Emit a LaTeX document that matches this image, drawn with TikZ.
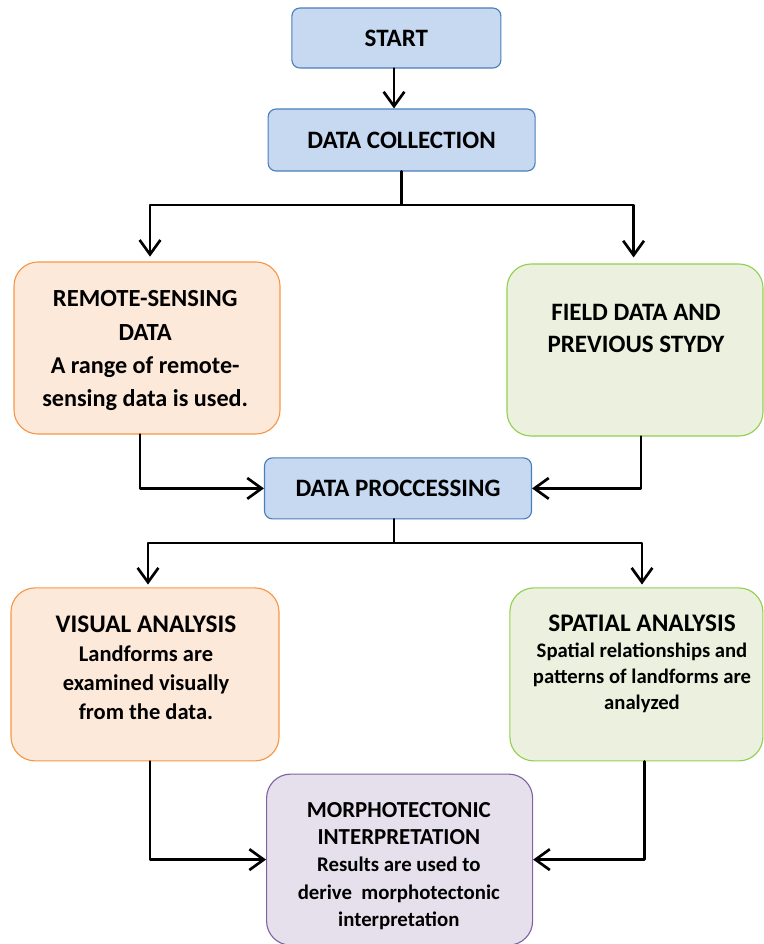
\documentclass[tikz,border=0pt]{standalone}
\usepackage{fontspec}
\setmainfont{Carlito}
\usepackage{tikz}
\usetikzlibrary{shapes,arrows.meta}
\usetikzlibrary{calc}
\definecolor{bluefill}{HTML}{C6D9F1}
\definecolor{blueline}{HTML}{4A7EBB}
\definecolor{orangefill}{HTML}{FDE9D9}
\definecolor{orangeline}{HTML}{F79646}
\definecolor{greenfill}{HTML}{EBF1DE}
\definecolor{greenline}{HTML}{92D050}
\definecolor{purplefill}{HTML}{E5E0EC}
\definecolor{purpleline}{HTML}{8064A2}
\newcommand{\ttl}[2][17.8]{{\fontsize{#1pt}{20pt}\selectfont #2}}
\tikzstyle{every node}=[font=\bfseries]
\tikzstyle{every path}=[line cap=round,line join=round]
\tikzstyle{bluebox}=[draw=blueline,fill=bluefill,rounded corners=0.2cm,line width=0.8pt,align=center,font=\bfseries\fontsize{17.8pt}{20pt}\selectfont]
\tikzstyle{orangebox}=[draw=orangeline,fill=orangefill,rounded corners=0.6cm,line width=0.8pt]
\tikzstyle{greenbox}=[draw=greenline,fill=greenfill,rounded corners=0.6cm,line width=0.8pt]
\tikzstyle{purplebox}=[draw=purpleline,fill=purplefill,rounded corners=0.6cm,line width=0.8pt]
\tikzstyle{boxtext}=[align=center,inner sep=0pt]
\tikzstyle{arr}=[line width=1.9pt,-{Straight Barb[length=0.36cm,width=0.52cm]}]

\begin{document}
\begin{tikzpicture}
\useasboundingbox (0,0) rectangle (19.1,-23.6);

\node[bluebox,minimum width=5.225cm,minimum height=1.5cm] (start) at (9.91,-0.95) {START};
\node[bluebox,minimum width=6.675cm,minimum height=1.55cm] (collect) at (10.04,-3.5) {DATA COLLECTION};

\node[orangebox,minimum width=6.65cm,minimum height=4.3cm] (remote) at (3.675,-8.7) {};
\node[boxtext,font=\bfseries\fontsize{17.2pt}{23.7pt}\selectfont] (remotetxt) at (3.63,-8.77)
  {\ttl[17.5]{REMOTE-SENSING}\\\ttl[17.5]{DATA}\\A range of remote-\\sensing data is used.};
\node[greenbox,minimum width=6.4cm,minimum height=4.3cm] (field) at (15.875,-8.75) {};
\node[boxtext,font=\bfseries\fontsize{17.8pt}{22.8pt}\selectfont] (fieldtxt) at (15.9,-8.22)
  {FIELD DATA AND\\PREVIOUS STYDY};

\node[bluebox,minimum width=6.675cm,minimum height=1.525cm] (proc) at (9.95,-12.21) {DATA PROCCESSING};

\node[orangebox,minimum width=6.7cm,minimum height=4.325cm] (visual) at (3.625,-16.86) {};
\node[boxtext,font=\bfseries\fontsize{16pt}{20.6pt}\selectfont] (visualtxt) at (3.65,-16.7)
  {\ttl[18]{VISUAL ANALYSIS}\\Landforms are\\examined visually\\from the data.};
\node[greenbox,minimum width=6.325cm,minimum height=4.325cm] (spatial) at (15.91,-16.86) {};
\node[boxtext,font=\bfseries\fontsize{14.7pt}{18.5pt}\selectfont] (spatialtxt) at (16.05,-16.6)
  {\ttl[18]{SPATIAL ANALYSIS}\\Spatial relationships and\\patterns of landforms are\\analyzed};

\node[purplebox,minimum width=6.65cm,minimum height=4.275cm] (morpho) at (9.99,-21.49) {};
\node[boxtext,font=\bfseries\fontsize{14.8pt}{19.5pt}\selectfont] (morphotxt) at (9.97,-21.65)
  {\ttl[16.3]{MORPHOTECTONIC}\\\ttl[16.3]{INTERPRETATION}\\Results are used to\\derive\ \ morphotectonic\\interpretation};

% first split
\coordinate (cl) at (3.75,-5.125);
\coordinate (cr) at (15.84,-5.125);
% second split
\coordinate (pl) at (3.7,-13.575);
\coordinate (pr) at (16.05,-13.575);

\draw[arr] ([xshift=-0.06cm]start.south) -- ([xshift=-0.06cm]start.south |- collect.north);
\draw[arr] (collect.south) |- (cl) -- ([yshift=0.12cm]cl |- remote.north);
\draw[arr] (collect.south) |- (cr) -- ([yshift=0.15cm]cr |- field.north);
\draw[arr] ([xshift=-0.175cm]remote.south) |- (proc.west);
\draw[arr] ([xshift=0.15cm]field.south) |- (proc.east);
\draw[arr] ([xshift=-0.1cm]proc.south) |- (pl) -- ([yshift=0.07cm]pl |- visual.north);
\draw[arr] ([xshift=-0.1cm]proc.south) |- (pr) -- ([yshift=0.07cm]pr |- spatial.north);
\draw[arr] ([xshift=0.125cm]visual.south) |- (morpho.west);
\draw[arr] ([xshift=0.2cm]spatial.south) |- (morpho.east);

\end{tikzpicture}
\end{document}
